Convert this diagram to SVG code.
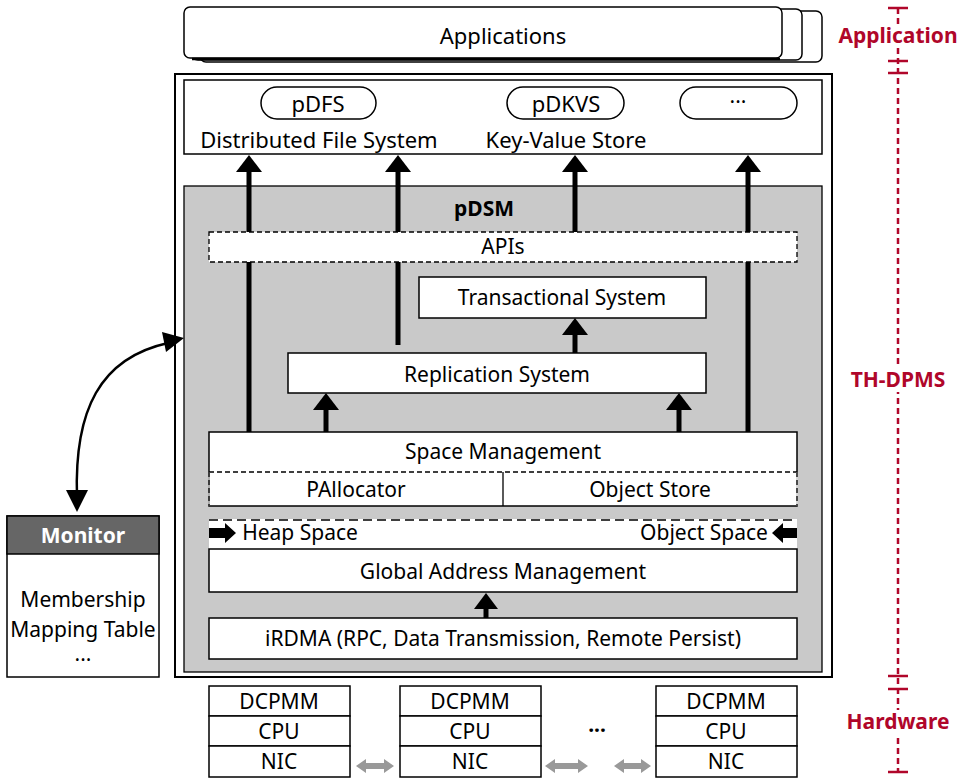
<svg xmlns="http://www.w3.org/2000/svg" width="963" height="780" viewBox="0 0 963 780">
  <defs>
    <style>
      .t { font-family: "Noto Sans", "Open Sans", sans-serif; font-size: 21px; fill: #000; text-anchor: middle; dominant-baseline: central; }
      .big { font-size: 22px; }
      .b { font-weight: bold; }
      .box { fill: #fff; stroke: #000; stroke-width: 1.5; }
      .dash { fill: #fff; stroke: #000; stroke-width: 1.3; stroke-dasharray: 5 3; }
      .shaft { stroke: #000; stroke-width: 5; fill: none; }
      .head { fill: #000; }
      .lab { font-family: "Noto Sans", "Open Sans", sans-serif; font-size: 21px; font-weight: bold; fill: #b0062a; text-anchor: middle; dominant-baseline: central; }
      .scale { stroke: #b0062a; stroke-width: 2.5; fill: none; }
      .gray { fill: #999; }
    </style>
  </defs>

  <!-- Applications (stacked cards) -->
  <g id="applications">
    <rect x="200" y="11" width="622" height="51" rx="6" class="box"/>
    <rect x="192" y="9" width="610" height="51" rx="6" class="box"/>
    <rect x="184" y="7" width="598" height="51" rx="6" class="box" stroke-width="2"/>
    <line x1="192" y1="59" x2="780" y2="59" stroke="#000" stroke-width="2.5"/>
    <text x="503" y="35" class="t big">Applications</text>
  </g>

  <!-- TH-DPMS frame -->
  <g id="th-dpms">
    <rect x="175" y="74" width="657" height="603" fill="#fff" stroke="#000" stroke-width="2"/>
  </g>

  <!-- Services layer -->
  <g id="services">
    <rect x="184" y="80" width="638" height="74" class="box" stroke-width="1.3"/>
    <rect x="261" y="87" width="115" height="32" rx="16" class="box" stroke-width="2"/>
    <text x="318" y="103" class="t big">pDFS</text>
    <text x="319" y="139" class="t big">Distributed File System</text>
    <rect x="507" y="87" width="117" height="32" rx="16" class="box" stroke-width="2"/>
    <text x="566" y="103" class="t big">pDKVS</text>
    <text x="566" y="139" class="t big">Key-Value Store</text>
    <rect x="680" y="87" width="117" height="32" rx="16" class="box" stroke-width="2"/>
    <text x="738" y="101" class="t" font-size="16">···</text>
  </g>

  <!-- pDSM container -->
  <g id="pdsm">
    <rect x="184" y="186" width="638" height="486" fill="#c9c9c9" stroke="#000" stroke-width="1.3"/>
    <text x="484" y="208" class="t b" font-size="20">pDSM</text>
  </g>

  <!-- Connectors -->
  <g id="connectors">
    <!-- up to services -->
    <line x1="249" y1="432" x2="249" y2="170" class="shaft"/>
    <path d="M236,172 L249,155 L262,172 z" class="head"/>
    <line x1="398" y1="345" x2="398" y2="170" class="shaft"/>
    <path d="M385,172 L398,155 L411,172 z" class="head"/>
    <line x1="575" y1="232" x2="575" y2="170" class="shaft"/>
    <path d="M562,172 L575,155 L588,172 z" class="head"/>
    <line x1="748" y1="432" x2="748" y2="170" class="shaft"/>
    <path d="M735,172 L748,155 L761,172 z" class="head"/>
    <!-- replication -> transactional -->
    <line x1="575" y1="353" x2="575" y2="332" class="shaft"/>
    <path d="M562,335 L575,318 L588,335 z" class="head"/>
    <!-- space management -> replication -->
    <line x1="326" y1="432" x2="326" y2="407" class="shaft"/>
    <path d="M313,410 L326,393 L339,410 z" class="head"/>
    <line x1="679" y1="432" x2="679" y2="407" class="shaft"/>
    <path d="M666,410 L679,393 L692,410 z" class="head"/>
    <!-- iRDMA -> global address management -->
    <line x1="486" y1="618" x2="486" y2="607" class="shaft"/>
    <path d="M474,609 L486,593 L498,609 z" class="head"/>
    <!-- monitor <-> frame -->
    <path d="M77,497 C74,410 100,358 168,343" fill="none" stroke="#000" stroke-width="2.5"/>
    <path d="M66,490 L77,512 L88,490 z" class="head"/>
    <path d="M162,332 L184,338 L166,352 z" class="head"/>
    <!-- hardware links -->
    <g class="gray">
      <path d="M356,766 L366,759 L366,763 L384,763 L384,759 L394,766 L384,773 L384,769 L366,769 L366,773 z"/>
      <path d="M545,766 L555,759 L555,763 L578,763 L578,759 L588,766 L578,773 L578,769 L555,769 L555,773 z"/>
      <path d="M614,766 L624,759 L624,763 L641,763 L641,759 L651,766 L641,773 L641,769 L624,769 L624,773 z"/>
    </g>
  </g>

  <!-- APIs layer (drawn over connectors) -->
  <g id="apis">
    <rect x="209" y="232" width="588" height="30" class="dash"/>
    <text x="503" y="246" class="t" font-size="20">APIs</text>
  </g>

  <g id="transactional-system">
    <rect x="419" y="277" width="287" height="41" class="box"/>
    <text x="562" y="297" class="t" font-size="20">Transactional System</text>
  </g>

  <g id="replication-system">
    <rect x="288" y="353" width="418" height="40" class="box"/>
    <text x="497" y="374" class="t" font-size="20">Replication System</text>
  </g>

  <g id="space-management">
    <rect x="209" y="432" width="588" height="74" class="box"/>
    <line x1="209" y1="472" x2="797" y2="472" stroke="#000" stroke-width="1.3" stroke-dasharray="5 3"/>
    <line x1="209" y1="472" x2="209" y2="506" stroke="#c9c9c9" stroke-width="1.6"/>
    <line x1="209" y1="472" x2="209" y2="506" stroke="#000" stroke-width="1.3" stroke-dasharray="5 3"/>
    <line x1="797" y1="472" x2="797" y2="506" stroke="#fff" stroke-width="1.6"/>
    <line x1="797" y1="472" x2="797" y2="506" stroke="#000" stroke-width="1.3" stroke-dasharray="5 3"/>
    <line x1="503" y1="472" x2="503" y2="506" stroke="#000" stroke-width="1.3"/>
    <text x="503" y="451" class="t">Space Management</text>
    <text x="356" y="489" class="t">PAllocator</text>
    <text x="650" y="489" class="t">Object Store</text>
  </g>

  <g id="address-spaces">
    <rect x="209" y="519" width="588" height="30" fill="#fff"/>
    <line x1="209" y1="520" x2="797" y2="520" stroke="#000" stroke-width="1.3" stroke-dasharray="9 5"/>
    <path d="M209,528 L225,528 L225,523 L236,533 L225,543 L225,538 L209,538 z" class="head"/>
    <path d="M797,528 L783,528 L783,523 L772,533 L783,543 L783,538 L797,538 z" class="head"/>
    <text x="300" y="532" class="t">Heap Space</text>
    <text x="704" y="532" class="t">Object Space</text>
  </g>

  <g id="global-address-management">
    <rect x="209" y="549" width="588" height="43" class="box"/>
    <text x="503" y="571" class="t">Global Address Management</text>
  </g>

  <g id="irdma">
    <rect x="209" y="618" width="588" height="41" class="box"/>
    <text x="503" y="638" class="t">iRDMA (RPC, Data Transmission, Remote Persist)</text>
  </g>

  <g id="monitor">
    <rect x="7" y="516" width="152" height="161" class="box"/>
    <rect x="7" y="516" width="152" height="38" fill="#666" stroke="#000" stroke-width="1.5"/>
    <text x="83" y="535" class="t b" font-size="20" style="fill:#fff">Monitor</text>
    <text x="83" y="599" class="t">Membership</text>
    <text x="83" y="629" class="t">Mapping Table</text>
    <text x="83" y="659" class="t" font-size="16">···</text>
  </g>

  <!-- Hardware nodes -->
  <g id="node-1">
    <rect x="209" y="686" width="141" height="30" class="box"/>
    <rect x="209" y="716" width="141" height="30" class="box"/>
    <rect x="209" y="746" width="141" height="31" class="box"/>
    <text x="279" y="701" class="t">DCPMM</text>
    <text x="279" y="731" class="t">CPU</text>
    <text x="279" y="761" class="t">NIC</text>
  </g>
  <g id="node-2">
    <rect x="400" y="686" width="141" height="30" class="box"/>
    <rect x="400" y="716" width="141" height="30" class="box"/>
    <rect x="400" y="746" width="141" height="31" class="box"/>
    <text x="470" y="701" class="t">DCPMM</text>
    <text x="470" y="731" class="t">CPU</text>
    <text x="470" y="761" class="t">NIC</text>
  </g>
  <g id="node-ellipsis">
    <text x="597" y="730" class="t b" font-size="22">···</text>
  </g>
  <g id="node-3">
    <rect x="656" y="686" width="141" height="30" class="box"/>
    <rect x="656" y="716" width="141" height="30" class="box"/>
    <rect x="656" y="746" width="141" height="31" class="box"/>
    <text x="726" y="701" class="t">DCPMM</text>
    <text x="726" y="731" class="t">CPU</text>
    <text x="726" y="761" class="t">NIC</text>
  </g>

  <!-- Layer scale on the right -->
  <g id="layer-scale">
    <line x1="898" y1="8" x2="898" y2="772" class="scale" stroke-dasharray="6 4"/>
    <g class="scale">
      <line x1="888" y1="8" x2="908" y2="8"/>
      <line x1="888" y1="61" x2="908" y2="61"/>
      <line x1="888" y1="73" x2="908" y2="73"/>
      <line x1="888" y1="676" x2="908" y2="676"/>
      <line x1="888" y1="689" x2="908" y2="689"/>
      <line x1="888" y1="772" x2="908" y2="772"/>
    </g>
    <rect x="838" y="24" width="122" height="24" fill="#fff"/>
    <text x="898" y="35" class="lab">Application</text>
    <rect x="845" y="368" width="106" height="24" fill="#fff"/>
    <text x="898" y="379" class="lab">TH-DPMS</text>
    <rect x="843" y="710" width="110" height="24" fill="#fff"/>
    <text x="898" y="721" class="lab">Hardware</text>
  </g>
</svg>
